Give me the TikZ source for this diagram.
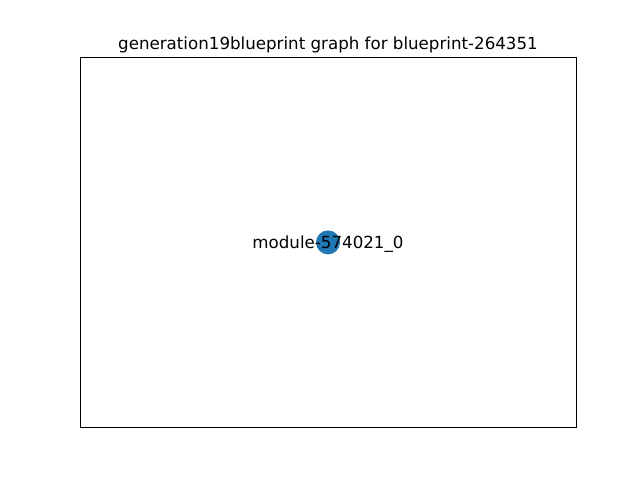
\documentclass[tikz,border=0pt]{standalone}
\usepackage{fontspec}
\setmainfont{DejaVu Sans}
\tikzset{
  module/.style = {circle, fill={rgb,255:red,31;green,119;blue,180}, minimum size=24pt, inner sep=0pt},
  label text/.style = {font=\fontsize{16.67}{20}\selectfont, inner sep=0pt}
}

\begin{document}
\begin{tikzpicture}[x=1pt,y=-1pt]
  \useasboundingbox (0,0) rectangle (640,480);
  % frame
  \draw[line width=0.8pt] (80,57.6) rectangle (576,427.2);
  % title
  \node[label text, anchor=base] (title) at (328,49.3) {generation19blueprint graph for blueprint-264351};
  % node
  \node[module] (m0) at (328,242.4) {};
  \node[label text, yshift=-1.5pt] (m0label) at (m0) {module-574021\_0};
\end{tikzpicture}
\end{document}
